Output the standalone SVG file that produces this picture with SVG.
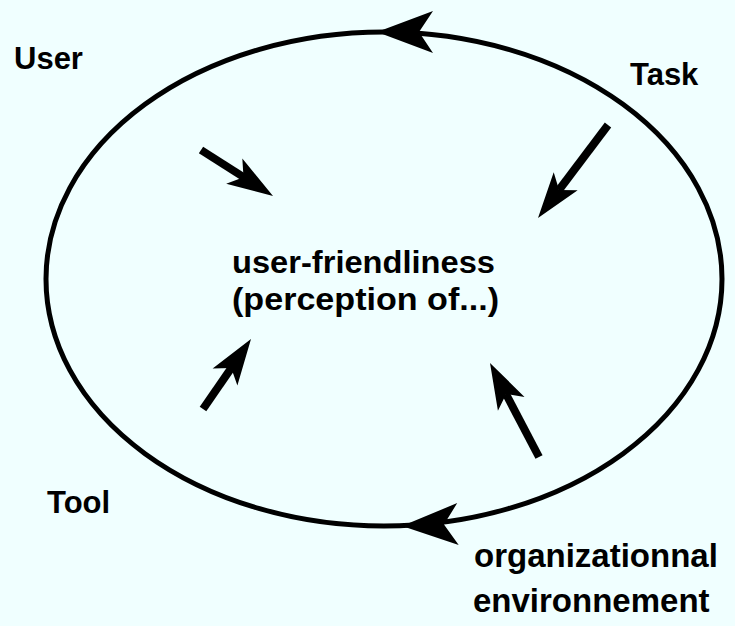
<svg xmlns="http://www.w3.org/2000/svg" xmlns:xlink="http://www.w3.org/1999/xlink" width="735" height="626" viewBox="0 0 735 626">
  <style>
    .lbl { font-family: "Liberation Sans", Arial, sans-serif; font-weight: bold; fill: #000; }
    .side { font-size: 31px; }
    .env { font-size: 33px; }
    .core { font-size: 32px; }
    .cycle { fill: none; stroke: #000; stroke-width: 5; }
    .shaft { stroke: #000; stroke-width: 8; stroke-linecap: butt; }
  </style>
  <defs>
    <!-- large head for the cycle, tip at origin pointing +x -->
    <path id="bighead" d="M0,0 L-56,-21 L-42,0 L-56,21 Z" fill="#000"/>
    <!-- smaller head for the inward arrows -->
    <path id="head" d="M0,0 L-46,-15 L-35,0 L-46,15 Z" fill="#000"/>
  </defs>

  <rect width="735" height="626" fill="#F0FFFF"/>

  <g id="connectors">
    <ellipse class="cycle" cx="384" cy="279" rx="338" ry="247"/>
    <use xlink:href="#bighead" transform="translate(377,32) rotate(180)"/>
    <use xlink:href="#bighead" transform="translate(402,526) rotate(178)"/>

    <!-- user -> centre -->
    <line class="shaft" x1="201" y1="150" x2="245" y2="178"/>
    <use xlink:href="#head" transform="translate(273,196) rotate(32.6)"/>
    <!-- task -> centre -->
    <line class="shaft" x1="608" y1="125" x2="559" y2="190"/>
    <use xlink:href="#head" transform="translate(538,218) rotate(127)"/>
    <!-- tool -> centre -->
    <line class="shaft" x1="203" y1="409" x2="232" y2="367"/>
    <use xlink:href="#head" transform="translate(251,339) rotate(-55.6)"/>
    <!-- environment -> centre -->
    <line class="shaft" x1="539" y1="457" x2="506" y2="394"/>
    <use xlink:href="#head" transform="translate(490,363) rotate(-117.5)"/>
  </g>

  <g id="user"><text class="lbl side" x="14" y="69">User</text></g>
  <g id="task"><text class="lbl side" x="630" y="85">Task</text></g>
  <g id="tool"><text class="lbl side" x="47" y="513">Tool</text></g>
  <g id="environment">
    <text class="lbl env" x="474" y="567">organizationnal</text>
    <text class="lbl env" x="473" y="612">environnement</text>
  </g>
  <g id="centre">
    <text class="lbl core" x="232" y="273" textLength="263" lengthAdjust="spacingAndGlyphs">user-friendliness</text>
    <text class="lbl core" x="232" y="310" textLength="267" lengthAdjust="spacingAndGlyphs">(perception of...)</text>
  </g>
</svg>
